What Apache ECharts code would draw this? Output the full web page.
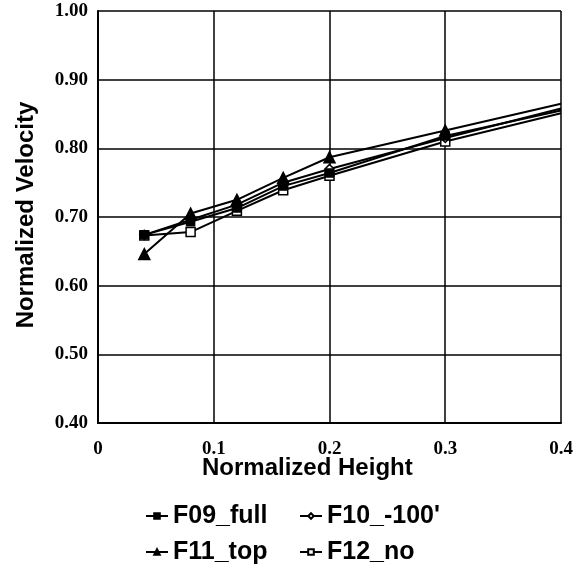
<!DOCTYPE html>
<html>
<head>
<meta charset="utf-8">
<script src="https://cdn.jsdelivr.net/npm/echarts@6/dist/echarts.min.js"></script>
<style>html,body{margin:0;padding:0;background:#fff}#c{width:587px;height:567px}</style>
</head>
<body>
<div id="c"></div>
<script>
var heights = [0.04, 0.08, 0.12, 0.16, 0.2, 0.3, 0.4];
var F09_full = [0.674, 0.693, 0.713, 0.745, 0.764, 0.818, 0.855];
var F10_100 = [0.674, 0.696, 0.718, 0.750, 0.770, 0.815, 0.858];
var F11_top = [0.646, 0.705, 0.725, 0.757, 0.787, 0.826, 0.865];
var F12_no = [0.673, 0.678, 0.709, 0.739, 0.760, 0.810, 0.851];
var seriesNames = ['F09_full', "F10_-100'", 'F11_top', 'F12_no'];
var seriesValues = [F09_full, F10_100, F11_top, F12_no];
var xTickLabels = ['0', '0.1', '0.2', '0.3', '0.4'];

var symbols = [
  {symbol: 'rect', size: 8, fill: '#000', z: 5},
  {symbol: 'diamond', size: 9, fill: '#fff', z: 4},
  {symbol: 'triangle', size: 11, fill: '#000', z: 6},
  {symbol: 'rect', size: 9, fill: '#fff', z: 3}
];

function buildData(vals) {
  return heights.map(function (h, i) {
    var item = {value: [h, vals[i]]};
    if (i === heights.length - 1) { item.symbol = 'none'; }
    return item;
  });
}

var series = seriesNames.map(function (name, k) {
  return {
    name: name,
    type: 'line',
    data: buildData(seriesValues[k]),
    symbol: symbols[k].symbol,
    symbolSize: symbols[k].size,
    showAllSymbol: true,
    lineStyle: {color: '#000', width: 2},
    itemStyle: {color: symbols[k].fill, borderColor: '#000', borderWidth: 1.5},
    z: symbols[k].z,
    animation: false
  };
});

var chart = echarts.init(document.getElementById('c'));
var labelFont = {fontFamily: 'Liberation Serif', fontWeight: 'bold', fontSize: 19, color: '#000'};
var legendText = {fontFamily: 'Liberation Sans', fontWeight: 'bold', fontSize: 25, color: '#000', width: 116, lineHeight: 28};
chart.setOption({
  backgroundColor: '#fff',
  animation: false,
  grid: {left: 98, right: 26, top: 11, bottom: 144},
  xAxis: {
    type: 'value', min: 0, max: 0.4, interval: 0.1,
    axisLine: {show: true, lineStyle: {color: '#000', width: 2}},
    axisTick: {show: false},
    splitLine: {show: true, lineStyle: {color: '#000', width: 1.5}},
    axisLabel: Object.assign({margin: 17, formatter: function (v) { return xTickLabels[Math.round(v * 10)]; }}, labelFont)
  },
  yAxis: {
    type: 'value', min: 0.4, max: 1.0, interval: 0.1,
    axisLine: {show: true, lineStyle: {color: '#000', width: 2}},
    axisTick: {show: false},
    splitLine: {show: true, lineStyle: {color: '#000', width: 1.5}},
    axisLabel: Object.assign({margin: 10, formatter: function (v) { return v.toFixed(2); }}, labelFont)
  },
  legend: [
    {data: ['F09_full', "F10_-100'"], left: 140, top: 497, itemWidth: 22, itemHeight: 7, itemGap: 10, textStyle: legendText},
    {data: ['F11_top', 'F12_no'], left: 140, top: 533, itemWidth: 22, itemHeight: 7, itemGap: 10, textStyle: legendText}
  ],
  graphic: [
    {type: 'text', left: 202, top: 456, style: {text: 'Normalized Height', font: 'bold 24px "Liberation Sans"', fill: '#000'}},
    {type: 'text', x: 26, y: 215, rotation: Math.PI / 2, style: {text: 'Normalized Velocity', font: 'bold 24px "Liberation Sans"', fill: '#000', align: 'center', verticalAlign: 'middle'}}
  ],
  series: series
});
</script>
</body>
</html>
